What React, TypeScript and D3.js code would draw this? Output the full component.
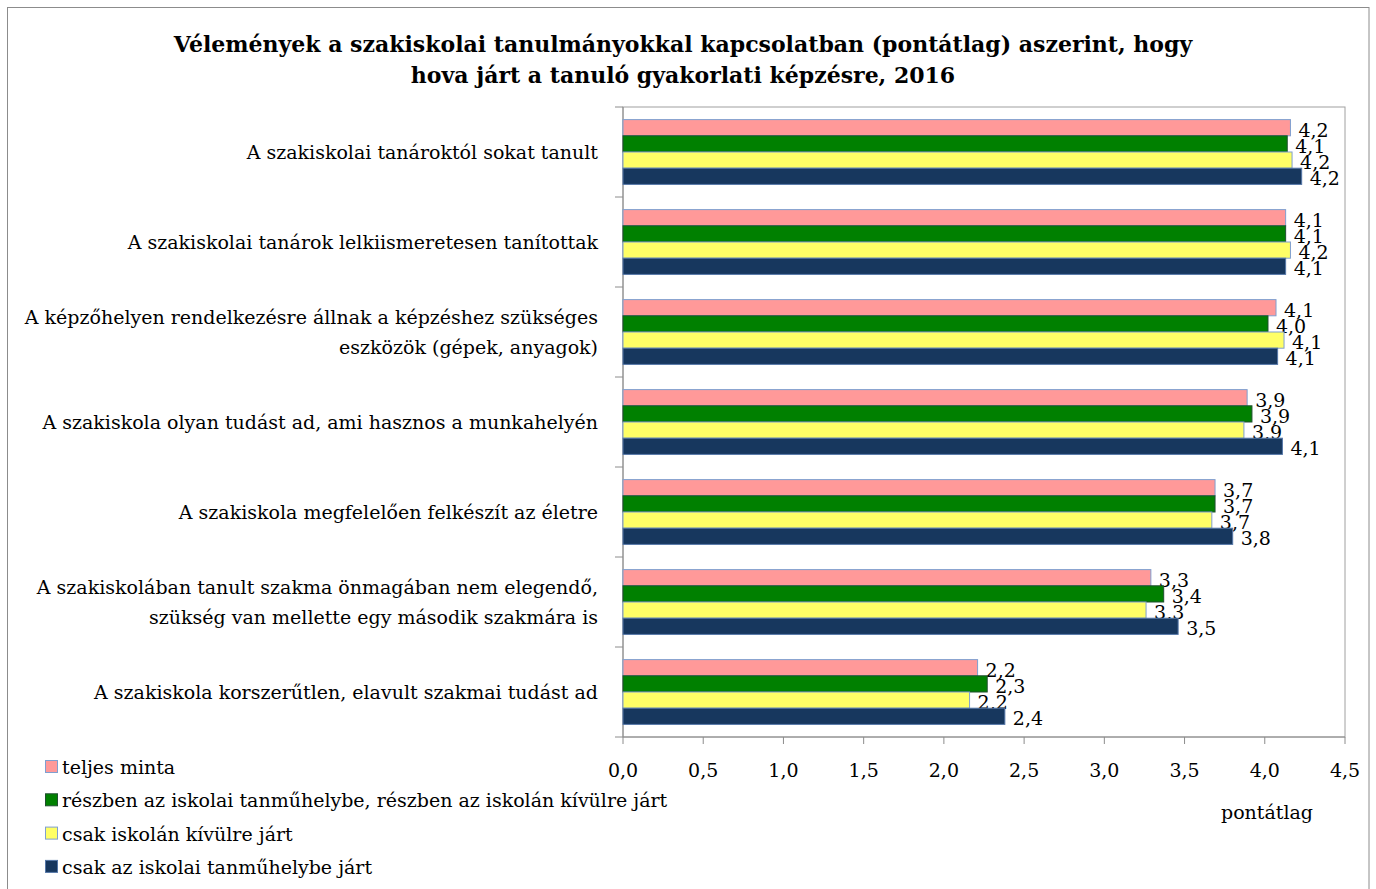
import React from 'react';
import * as d3 from 'd3';

const categories: string[][] = [
  ['A szakiskolai tanároktól sokat tanult'],
  ['A szakiskolai tanárok lelkiismeretesen tanítottak'],
  ['A képzőhelyen rendelkezésre állnak a képzéshez szükséges', 'eszközök (gépek, anyagok)'],
  ['A szakiskola olyan tudást ad, ami hasznos a munkahelyén'],
  ['A szakiskola megfelelően felkészít az életre'],
  ['A szakiskolában tanult szakma önmagában nem elegendő,', 'szükség van mellette egy második szakmára is'],
  ['A szakiskola korszerűtlen, elavult szakmai tudást ad'],
];

const seriesNames = [
  'teljes minta',
  'részben az iskolai tanműhelybe, részben az iskolán kívülre járt',
  'csak iskolán kívülre járt',
  'csak az iskolai tanműhelybe járt',
];

const teljesMinta = [4.16, 4.13, 4.07, 3.89, 3.69, 3.29, 2.21];
const reszben = [4.14, 4.13, 4.02, 3.92, 3.69, 3.37, 2.27];
const kivulre = [4.17, 4.16, 4.12, 3.87, 3.67, 3.26, 2.16];
const tanmuhely = [4.23, 4.13, 4.08, 4.11, 3.8, 3.46, 2.38];

const xTicks = [0, 0.5, 1, 1.5, 2, 2.5, 3, 3.5, 4, 4.5];

const titleLines = [
  'Vélemények a szakiskolai tanulmányokkal kapcsolatban (pontátlag) aszerint, hogy',
  'hova járt a tanuló gyakorlati képzésre, 2016',
];
const axisTitle = 'pontátlag';

const fills = ['#ff9999', '#008000', '#ffff66', '#17375e'];
const strokes = ['#7f9fd0', '#1f4f2f', '#7f9fd0', '#5577a8'];

const FONT = "'DejaVu Serif', serif";

export default function App() {
  const W = 1376;
  const H = 889;
  const left = 623;
  const right = 1345;
  const top = 107;
  const bottom = 737;
  const series = [teljesMinta, reszben, kivulre, tanmuhely];

  const x = d3.scaleLinear().domain([0, 4.5]).range([left, right]);
  const y = d3
    .scaleBand<number>()
    .domain(d3.range(categories.length))
    .range([top, bottom])
    .paddingInner(0.28)
    .paddingOuter(0.14);
  const yIn = d3
    .scaleBand<number>()
    .domain(d3.range(series.length))
    .range([0, y.bandwidth()]);
  const step = (bottom - top) / categories.length;
  const fmt = (v: number) => v.toFixed(1).replace('.', ',');

  return (
    <svg
      width={W}
      height={H}
      style={{ position: 'absolute', left: 0, top: 0, background: '#fff' }}
      fontFamily={FONT}
    >
      <rect x={7.5} y={7.5} width={1361.5} height={900} fill="#fff" stroke="#8c8c8c" />
      {titleLines.map((t, i) => (
        <text
          key={i}
          x={683}
          y={44 + i * 31}
          textAnchor="middle"
          dominantBaseline="central"
          fontWeight="bold"
          fontSize={22}
          fill="#000"
        >
          {t}
        </text>
      ))}
      {/* plot area frame */}
      <rect x={left} y={top} width={right - left} height={bottom - top} fill="none" stroke="#a0a0a0" />
      {/* y axis ticks */}
      {d3.range(categories.length + 1).map((i) => (
        <line key={i} x1={left - 8} x2={left} y1={top + i * step} y2={top + i * step} stroke="#8c8c8c" />
      ))}
      <line x1={left} x2={left} y1={top} y2={bottom} stroke="#8c8c8c" />
      <line x1={left} x2={right} y1={bottom} y2={bottom} stroke="#8c8c8c" />
      {xTicks.map((t) => (
        <g key={t}>
          <line x1={x(t)} x2={x(t)} y1={bottom} y2={bottom + 7} stroke="#8c8c8c" />
          <text x={x(t)} y={770} textAnchor="middle" dominantBaseline="central" fontSize={19}>
            {fmt(t)}
          </text>
        </g>
      ))}
      <text x={1267} y={812} textAnchor="middle" dominantBaseline="central" fontSize={19}>
        {axisTitle}
      </text>
      {/* bars */}
      {categories.map((cat, ci) => (
        <g key={ci}>
          {series.map((s, si) => {
            const by = (y(ci) as number) + (yIn(si) as number);
            const bh = yIn.bandwidth();
            return (
              <g key={si}>
                <rect
                  x={x(0)}
                  y={by}
                  width={x(s[ci]) - x(0)}
                  height={bh}
                  fill={fills[si]}
                  stroke={strokes[si]}
                  strokeWidth={1}
                />
                <text
                  x={x(s[ci]) + 8}
                  y={by + bh / 2 + 2}
                  dominantBaseline="central"
                  fontSize={19}
                >
                  {fmt(s[ci])}
                </text>
              </g>
            );
          })}
          {cat.map((line, li) => (
            <text
              key={li}
              x={598}
              y={top + (ci + 0.5) * step + (li - (cat.length - 1) / 2) * 30}
              textAnchor="end"
              dominantBaseline="central"
              fontSize={19}
            >
              {line}
            </text>
          ))}
        </g>
      ))}
      {/* legend */}
      {seriesNames.map((n, i) => (
        <g key={i}>
          <rect x={45.5} y={760.5 + i * 33.3} width={12} height={12} fill={fills[i]} stroke={strokes[i]} />
          <text x={62} y={767 + i * 33.3} dominantBaseline="central" fontSize={19}>
            {n}
          </text>
        </g>
      ))}
    </svg>
  );
}
